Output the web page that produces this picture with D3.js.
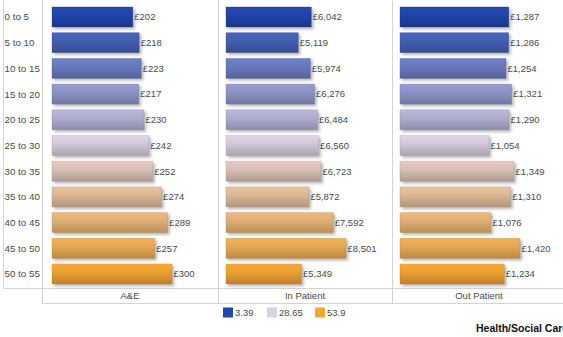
<!DOCTYPE html>
<html>
<head>
<meta charset="utf-8">
<script src="https://cdn.jsdelivr.net/npm/d3@7"></script>
<style>
  html, body { margin: 0; padding: 0; background: #fff; }
  svg { display: block; font-family: "Liberation Sans", Arial, sans-serif; }
</style>
</head>
<body>
<svg id="chart" width="563" height="337"></svg>
<script>
// Age bands (rows)
const ageBands = ["0 to 5", "5 to 10", "10 to 15", "15 to 20", "20 to 25", "25 to 30",
                  "30 to 35", "35 to 40", "40 to 45", "45 to 50", "50 to 55"];
// Colour measure for each row
const colourValues = [3.39, 8.44, 13.49, 18.54, 23.6, 28.65, 33.7, 38.75, 43.8, 48.85, 53.9];
// Cost per age band for each service
const aeCost = [202, 218, 223, 217, 230, 242, 252, 274, 289, 257, 300];
const inPatientCost = [6042, 5119, 5974, 6276, 6484, 6560, 6723, 5872, 7592, 8501, 5349];
const outPatientCost = [1287, 1286, 1254, 1321, 1290, 1054, 1349, 1310, 1076, 1420, 1234];
const panelNames = ["A&E", "In Patient", "Out Patient"];
const legendStops = [3.39, 28.65, 53.9];
const axisTitle = "Health/Social Care";

const panels = [
  { name: panelNames[0], values: aeCost, x0: 42, x1: 218, pad: 10 },
  { name: panelNames[1], values: inPatientCost, x0: 218, x1: 392, pad: 8 },
  { name: panelNames[2], values: outPatientCost, x0: 392, x1: 566, pad: 8 }
];

const svg = d3.select("#chart");
const gridColor = "#d4d4d4";
const textColor = "#4a4a4a";

const colour = d3.scaleLinear()
  .domain(legendStops)
  .range(["#2147b0", "#dcd0e2", "#f5a733"])
  .interpolate(d3.interpolateRgb);

const y = d3.scaleBand().domain(ageBands).range([7, 284]).paddingInner(0.222).paddingOuter(0);

const fmt = d3.format(",");

// defs: shading gradients and drop shadow
const defs = svg.append("defs");
const shadow = defs.append("filter").attr("id", "shadow")
  .attr("x", "-10%").attr("y", "-30%").attr("width", "130%").attr("height", "180%");
shadow.append("feDropShadow")
  .attr("dx", 2).attr("dy", 2).attr("stdDeviation", 1.4)
  .attr("flood-color", "#777").attr("flood-opacity", 0.55);

ageBands.forEach((b, i) => {
  const c = d3.color(colour(colourValues[i]));
  const g = defs.append("linearGradient").attr("id", "grad" + i)
    .attr("x1", 0).attr("y1", 0).attr("x2", 0).attr("y2", 1);
  g.append("stop").attr("offset", "0%").attr("stop-color", c.brighter(0.05));
  g.append("stop").attr("offset", "40%").attr("stop-color", c.darker(0.12));
  g.append("stop").attr("offset", "100%").attr("stop-color", c.darker(0.7));
});

// grid / frame lines
const lines = svg.append("g").attr("stroke", gridColor).attr("stroke-width", 1).attr("shape-rendering", "crispEdges");
lines.append("line").attr("x1", 3.5).attr("x2", 3.5).attr("y1", 0).attr("y2", 288.5);
lines.append("line").attr("x1", 3).attr("x2", 563).attr("y1", 288.5).attr("y2", 288.5);
lines.append("line").attr("x1", 42).attr("x2", 563).attr("y1", 303.5).attr("y2", 303.5);
panels.forEach(p => {
  lines.append("line").attr("x1", p.x0 + 0.5).attr("x2", p.x0 + 0.5).attr("y1", 0).attr("y2", 303.5);
});

// row labels
svg.append("g").selectAll("text").data(ageBands).join("text")
  .attr("x", 4.5)
  .attr("y", d => y(d) + y.bandwidth() / 2)
  .attr("dy", "0.35em")
  .attr("font-size", 9.8)
  .attr("fill", textColor)
  .text(d => d);

// panels of bars
panels.forEach(p => {
  const x = d3.scaleLinear()
    .domain([0, d3.max(p.values) * 1.4])
    .range([p.x0 + p.pad, p.x0 + p.pad + 168]);
  const g = svg.append("g");
  const rows = ageBands.map((b, i) => ({ band: b, value: p.values[i], i }));

  g.selectAll("rect").data(rows).join("rect")
    .attr("x", x(0))
    .attr("y", d => y(d.band))
    .attr("width", d => x(d.value) - x(0))
    .attr("height", y.bandwidth())
    .attr("fill", d => `url(#grad${d.i})`)
    .attr("stroke", d => d3.color(colour(colourValues[d.i])).darker(0.8))
    .attr("stroke-opacity", 0.5)
    .attr("stroke-width", 0.6)
    .attr("filter", "url(#shadow)");

  g.selectAll("text.val").data(rows).join("text")
    .attr("class", "val")
    .attr("x", d => x(d.value) + 1.5)
    .attr("y", d => y(d.band) + y.bandwidth() / 2)
    .attr("dy", "0.35em")
    .attr("font-size", 9.5)
    .attr("fill", textColor)
    .text(d => "£" + fmt(d.value));

  svg.append("text")
    .attr("x", (p.x0 + p.x1) / 2)
    .attr("y", 296)
    .attr("dy", "0.35em")
    .attr("text-anchor", "middle")
    .attr("font-size", 9.5)
    .attr("fill", textColor)
    .text(p.name);
});

// legend
const legendX = [223, 267, 315];
const legend = svg.append("g");
legendStops.forEach((v, i) => {
  legend.append("rect")
    .attr("x", legendX[i]).attr("y", 307.5)
    .attr("width", 10).attr("height", 10)
    .attr("fill", colour(v));
  legend.append("text")
    .attr("x", legendX[i] + 12).attr("y", 312.5)
    .attr("dy", "0.35em")
    .attr("font-size", 9.5)
    .attr("fill", textColor)
    .text(v);
});

// axis title
svg.append("text")
  .attr("x", 476).attr("y", 328)
  .attr("dy", "0.35em")
  .attr("font-size", 10.5)
  .attr("font-weight", "bold")
  .attr("fill", "#111")
  .text(axisTitle);
</script>
</body>
</html>
